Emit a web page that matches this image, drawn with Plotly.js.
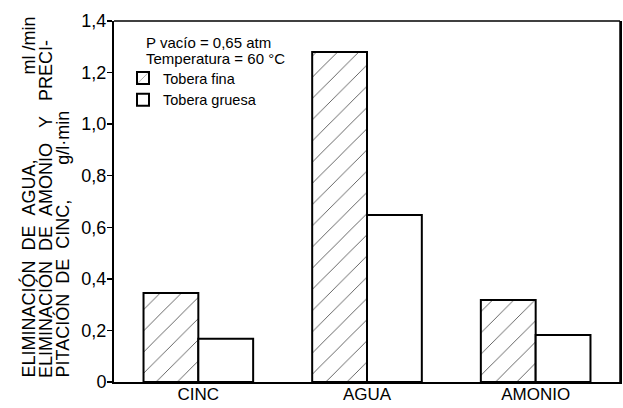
<!DOCTYPE html>
<html>
<head>
<meta charset="utf-8">
<script src="https://cdn.plot.ly/plotly-3.0.1.min.js"></script>
<style>html,body{margin:0;padding:0;background:#fff;}</style>
</head>
<body>
<div id="chart" style="width:623px;height:408px;"></div>
<script>
var categories = ["CINC", "AGUA", "AMONIO"];
var toberaFina = [0.345, 1.28, 0.318];
var toberaGruesa = [0.168, 0.648, 0.182];
var seriesNames = ["Tobera fina", "Tobera gruesa"];
var yTickVals = [0, 0.2, 0.4, 0.6, 0.8, 1.0, 1.2, 1.4];
var yTickText = ["0", "0,2", "0,4", "0,6", "0,8", "1,0", "1,2", "1,4"];
var titleWords = [
  ["ELIMINACIÓN", "DE", "AGUA,", "ml /min"],
  ["ELIMINACIÓN", "DE", "AMONIO", "Y", "PRECI-"],
  ["PITACIÓN", "DE", "CINC,", "g/l·min"]
];
var titleGaps = [[2, 2, 17], [2, 2, 3, 3], [2, 2, 7]];
var conditions = ["P vacío = 0,65 atm", "Temperatura = 60 °C"];

var font = "Liberation Sans, Arial, sans-serif";
var NB = "\u00A0";
function joinWords(words, gaps) {
  var s = words[0];
  for (var i = 1; i < words.length; i++) s += NB.repeat(gaps[i - 1]) + words[i];
  return s.replace(/ /g, NB);
}

var traces = [
  {
    type: "bar", x: categories, y: toberaFina, name: seriesNames[0],
    marker: {
      color: "white",
      line: {color: "black", width: 2},
      pattern: {shape: "/", fgcolor: "black", bgcolor: "white", size: 15, solidity: 0.04}
    }
  },
  {
    type: "bar", x: categories, y: toberaGruesa, name: seriesNames[1],
    marker: {color: "white", line: {color: "black", width: 2}}
  }
];

var lineX = [28, 45, 62];
var annotations = titleWords.map(function (w, i) {
  return {
    text: joinWords(w, titleGaps[i]), xref: "paper", yref: "paper",
    x: (lineX[i] - 114) / 506, y: (382 - 380) / 361,
    xanchor: "center", yanchor: "bottom", textangle: -90,
    showarrow: false, font: {family: font, size: 18, color: "black"}
  };
});
var condY = [43, 58];
conditions.forEach(function (c, i) {
  annotations.push({
    text: c, xref: "paper", yref: "paper",
    x: (144 - 114) / 506, y: (382 - condY[i]) / 361, xanchor: "left", yanchor: "middle",
    showarrow: false, font: {family: font, size: 15, color: "black"}
  });
});

var layout = {
  width: 623, height: 408,
  margin: {l: 114, r: 3, t: 21, b: 26},
  paper_bgcolor: "white", plot_bgcolor: "white",
  barmode: "group", bargap: 0.35, bargroupgap: 0,
  showlegend: true,
  legend: {
    x: (123 - 114) / 506, y: (382 - 62) / 361, xanchor: "left", yanchor: "top",
    bgcolor: "rgba(0,0,0,0)", font: {family: font, size: 14.5, color: "black"},
    tracegroupgap: 0, itemsizing: "constant"
  },
  xaxis: {
    type: "category", range: [-0.5, 2.5],
    showline: true, linecolor: "black", linewidth: 2,
    ticks: "", showgrid: false, zeroline: false,
    ticklabelstandoff: -4,
    tickfont: {family: font, size: 17, color: "black"}
  },
  yaxis: {
    range: [0, 1.4], tickvals: yTickVals, ticktext: yTickText,
    showline: true, linecolor: "black", linewidth: 2, mirror: true,
    ticks: "outside", ticklen: 5, tickwidth: 1.5, tickcolor: "black",
    showgrid: false, zeroline: false,
    ticklabelstandoff: -3,
    tickfont: {family: font, size: 18, color: "black"}
  },
  shapes: [
    {type: "line", xref: "paper", yref: "paper", x0: 0, x1: 1, y0: 1, y1: 1, line: {color: "black", width: 1.5}},
    {type: "line", xref: "paper", yref: "paper", x0: 1, x1: 1, y0: 0, y1: 1, line: {color: "black", width: 1.5}}
  ],
  annotations: annotations
};

Plotly.newPlot("chart", traces, layout, {displayModeBar: false, staticPlot: true});
</script>
</body>
</html>
